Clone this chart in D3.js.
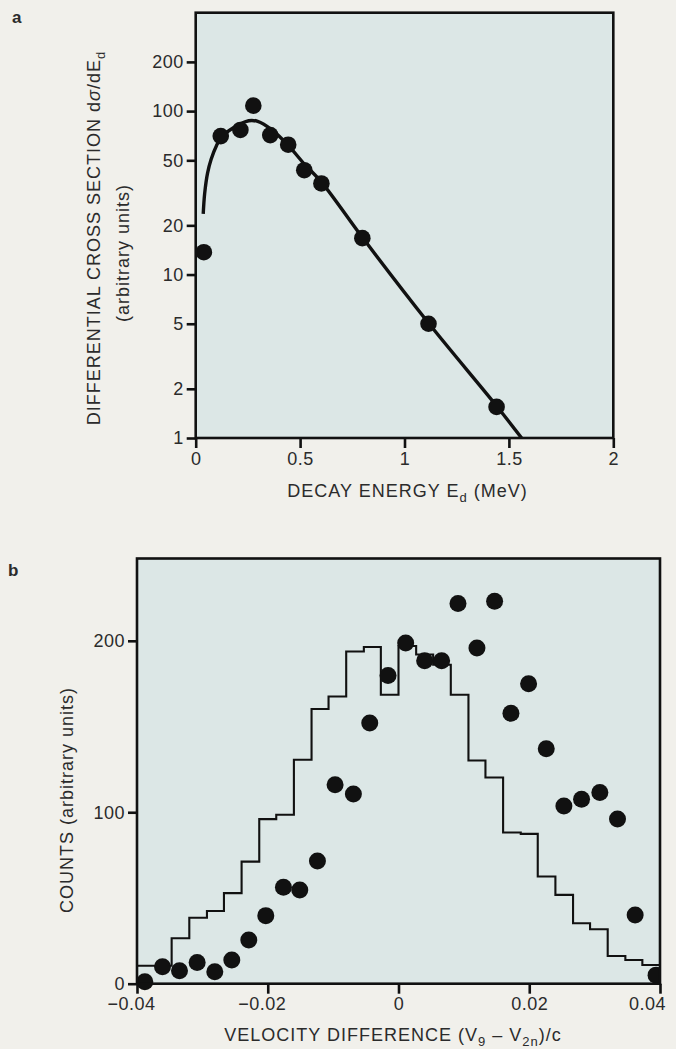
<!DOCTYPE html>
<html>
<head>
<meta charset="utf-8">
<script src="https://cdn.jsdelivr.net/npm/d3@7"></script>
<style>
  html, body { margin: 0; padding: 0; background: #f1f0eb; }
  svg text { font-family: "Liberation Sans", Arial, Helvetica, sans-serif; fill: #2b2b2b; }
</style>
</head>
<body>
<svg id="chart" width="676" height="1049"></svg>
<script>
// ---------------- Panel a data ----------------
const aTickValues = [1, 2, 5, 10, 20, 50, 100, 200];
const aXTickValues = [0, 0.5, 1, 1.5, 2];
const aPointsE = [0.039, 0.120, 0.214, 0.276, 0.357, 0.443, 0.520, 0.602, 0.798, 1.115, 1.441];
const aPointsV = [13.7, 70.3, 76.7, 108, 71.3, 62.3, 43.5, 36.1, 16.7, 5.0, 1.55];
const aCurveE = [0.036, 0.043, 0.057, 0.074, 0.100, 0.125, 0.177, 0.254, 0.297, 0.365, 0.443, 0.520, 0.606, 0.798, 1.115, 1.441, 1.561];
const aCurveV = [23.5, 31.4, 41.9, 50.8, 61.7, 69.6, 78.5, 87.3, 86.5, 76.7, 61.7, 47.5, 36.3, 16.9, 5.05, 1.57, 1.0];

// ---------------- Panel b data ----------------
const bXTickValues = [-0.04, -0.02, 0, 0.02, 0.04];
const bXTickLabels = ["\u22120.04", "\u22120.02", "0", "0.02", "0.04"];
const bYTickValues = [0, 100, 200];
const bBinEdges = [-0.0400, -0.0373, -0.0347, -0.0320, -0.0293, -0.0267, -0.0240, -0.0213, -0.0187, -0.0160,
                   -0.0133, -0.0107, -0.0080, -0.0053, -0.0027, 0.0000, 0.0027, 0.0053, 0.0080, 0.0107,
                    0.0133, 0.0160, 0.0187, 0.0213, 0.0240, 0.0267, 0.0293, 0.0320, 0.0347, 0.0373, 0.0400];
const bHistCounts = [10.5, 10.5, 26.5, 38.5, 42.4, 52.8, 71.2, 96, 98.5, 130.6,
                     160.2, 167.5, 193.8, 196.4, 168.5, 197, 192, 186, 168.5, 130.2,
                     120.3, 88.2, 87.4, 62.5, 51.8, 35.3, 31.8, 16.2, 13.8, 10.9];
const bDotX = [-0.0388, -0.0361, -0.0335, -0.0308, -0.0281, -0.0255, -0.0229, -0.0203, -0.0176, -0.0151,
               -0.0124, -0.0097, -0.0069, -0.0044, -0.0016, 0.0011, 0.0040, 0.0066, 0.0091, 0.0120,
                0.0147, 0.0172, 0.0199, 0.0226, 0.0253, 0.0280, 0.0308, 0.0335, 0.0362, 0.0394];
const bDotY = [1.2, 9.9, 7.6, 12.3, 7, 13.8, 25.5, 39.7, 56.3, 54.7,
               71.6, 116, 110.7, 152, 179.8, 198.7, 188.4, 188.4, 221.7, 195.8,
               223, 157.8, 175, 137, 103.7, 107.6, 111.5, 96, 40.1, 5];

const svg = d3.select("#chart");
const plotBg = "#dce7e6";
const ink = "#111";

// ================= Panel a =================
const aL = 195.7, aR = 613.3, aT = 12.7, aB = 438;
const xA = d3.scaleLinear().domain([0, 2]).range([aL, aR]);
const yA = d3.scaleLog().domain([1, 400]).range([aB, aT]);

svg.append("rect").attr("x", aL).attr("y", aT).attr("width", aR - aL).attr("height", aB - aT)
  .attr("fill", plotBg);

svg.append("clipPath").attr("id", "clipA").append("rect")
  .attr("x", aL).attr("y", aT).attr("width", aR - aL).attr("height", aB - aT);

const curveA = d3.line().x((d, i) => xA(aCurveE[i])).y((d, i) => yA(aCurveV[i])).curve(d3.curveCatmullRom.alpha(0.5));
svg.append("path").attr("d", curveA(aCurveE)).attr("fill", "none").attr("stroke", ink)
  .attr("stroke-width", 3.4).attr("clip-path", "url(#clipA)");

svg.append("g").selectAll("circle").data(aPointsE).join("circle")
  .attr("cx", (d) => xA(d)).attr("cy", (d, i) => yA(aPointsV[i])).attr("r", 8.3).attr("fill", ink);

svg.append("rect").attr("x", aL).attr("y", aT).attr("width", aR - aL).attr("height", aB - aT)
  .attr("fill", "none").attr("stroke", ink).attr("stroke-width", 2.6);

const axAy = svg.append("g").attr("transform", `translate(${aL},0)`)
  .call(d3.axisLeft(yA).tickValues(aTickValues).tickFormat(d3.format("d")).tickSize(9).tickPadding(3));
const axAx = svg.append("g").attr("transform", `translate(0,${aB})`)
  .call(d3.axisBottom(xA).tickValues(aXTickValues).tickFormat((d) => String(d)).tickSize(10).tickPadding(4));

// ================= Panel b =================
const bL = 137, bR = 660, bT = 558.5, bB = 983.7;
const xB = d3.scaleLinear().domain([-0.04, 0.04]).range([bL, bR]);
const yB = d3.scaleLinear().domain([0, 248]).range([bB, bT]);

svg.append("rect").attr("x", bL).attr("y", bT).attr("width", bR - bL).attr("height", bB - bT)
  .attr("fill", plotBg);

const histPts = bHistCounts.map((c, i) => [bBinEdges[i], c]);
histPts.push([bBinEdges[bBinEdges.length - 1], bHistCounts[bHistCounts.length - 1]]);
const stepLine = d3.line().x((d) => xB(d[0])).y((d) => yB(d[1])).curve(d3.curveStepAfter);
svg.append("path").attr("d", stepLine(histPts)).attr("fill", "none").attr("stroke", ink)
  .attr("stroke-width", 2.1);

svg.append("clipPath").attr("id", "clipB").append("rect")
  .attr("x", 0).attr("y", 0).attr("width", bR).attr("height", 1049);

svg.append("g").attr("clip-path", "url(#clipB)").selectAll("circle").data(bDotX).join("circle")
  .attr("cx", (d) => xB(d)).attr("cy", (d, i) => yB(bDotY[i])).attr("r", 8.5).attr("fill", ink);

svg.append("rect").attr("x", bL).attr("y", bT).attr("width", bR - bL).attr("height", bB - bT)
  .attr("fill", "none").attr("stroke", ink).attr("stroke-width", 2.6);

const axBy = svg.append("g").attr("transform", `translate(${bL},0)`)
  .call(d3.axisLeft(yB).tickValues(bYTickValues).tickFormat(d3.format("d")).tickSize(9).tickPadding(3));
const axBx = svg.append("g").attr("transform", `translate(0,${bB})`)
  .call(d3.axisBottom(xB).tickValues(bXTickValues).tickFormat((d, i) => bXTickLabels[i]).tickSize(10).tickPadding(4));

// axis styling
[axAy, axAx, axBy, axBx].forEach((g) => {
  g.select(".domain").remove();
  g.selectAll(".tick line").attr("stroke", ink).attr("stroke-width", 2.6);
  g.selectAll(".tick text").attr("font-size", 18).attr("fill", "#2b2b2b")
    .style("font-family", '"Liberation Sans", Arial, sans-serif').style("letter-spacing", "0.5px");
});
// negative labels: digits centred under the tick; last label pulled inside the page
axBx.selectAll(".tick text").attr("dx", (d) => d < 0 ? -6 : (d >= 0.04 ? -13 : 0));

// ================= Titles =================
svg.append("text").attr("x", 12).attr("y", 23).attr("font-size", 17).attr("font-weight", "bold").text("a");
svg.append("text").attr("x", 8).attr("y", 576).attr("font-size", 17).attr("font-weight", "bold").text("b");

const tA = svg.append("text").attr("x", (aL + aR) / 2 + 3).attr("y", 497).attr("text-anchor", "middle")
  .attr("font-size", 18).style("letter-spacing", "1px");
tA.append("tspan").text("DECAY ENERGY E");
tA.append("tspan").attr("font-size", 13).attr("dy", 5).text("d");
tA.append("tspan").attr("dy", -5).text(" (MeV)");

const yTa = svg.append("text").attr("transform", "translate(100,238) rotate(-90)").attr("text-anchor", "middle")
  .attr("font-size", 18).style("letter-spacing", "1px");
yTa.append("tspan").text("DIFFERENTIAL CROSS SECTION d");
yTa.append("tspan").attr("font-style", "italic").text("\u03c3");
yTa.append("tspan").text("/dE");
yTa.append("tspan").attr("font-size", 13).attr("dy", 5).text("d");
svg.append("text").attr("transform", "translate(129,253) rotate(-90)").attr("text-anchor", "middle")
  .attr("font-size", 18).style("letter-spacing", "1px").text("(arbitrary units)");

const tB = svg.append("text").attr("x", 393).attr("y", 1041).attr("text-anchor", "middle")
  .attr("font-size", 18).style("letter-spacing", "1px");
tB.append("tspan").text("VELOCITY DIFFERENCE (V");
tB.append("tspan").attr("font-size", 13).attr("dy", 5).text("9");
tB.append("tspan").attr("dy", -5).text(" \u2013 V");
tB.append("tspan").attr("font-size", 13).attr("dy", 5).text("2n");
tB.append("tspan").attr("dy", -5).text(")/c");

svg.append("text").attr("transform", "translate(73,800) rotate(-90)").attr("text-anchor", "middle")
  .attr("font-size", 18).style("letter-spacing", "1px").text("COUNTS (arbitrary units)");
</script>
</body>
</html>
